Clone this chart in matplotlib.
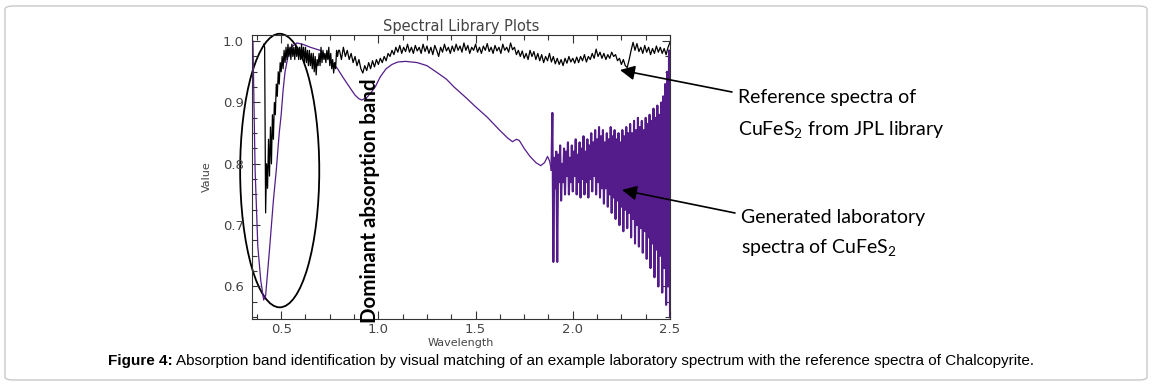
import numpy as np
import matplotlib
matplotlib.use('Agg')
from matplotlib import pyplot as plt
from matplotlib.patches import Ellipse, FancyBboxPatch
from matplotlib.ticker import MultipleLocator

# reference spectrum (JPL library), 0.410 - 0.795 um in 0.005 steps
ref_vis = [0.995, 0.99, 0.72, 0.80, 0.76, 0.84, 0.78, 0.86, 0.80, 0.88,
           0.84, 0.90, 0.88, 0.93, 0.91, 0.95, 0.93, 0.965, 0.95, 0.975,
           0.955, 0.985, 0.965, 0.99, 0.97, 0.995, 0.975, 0.99, 0.97, 0.995,
           0.975, 0.99, 0.97, 0.995, 0.975, 0.99, 0.97, 0.99, 0.97, 0.995,
           0.97, 0.99, 0.965, 0.99, 0.965, 0.985, 0.96, 0.985, 0.96, 0.98,
           0.955, 0.98, 0.95, 0.975, 0.945, 0.97, 0.96, 0.98, 0.96, 0.99,
           0.965, 0.985, 0.97, 0.98, 0.965, 0.985, 0.97, 0.99, 0.96, 0.98,
           0.955, 0.97, 0.948, 0.965, 0.955, 0.985, 0.975, 0.985]
# reference spectrum, 0.80 - 2.50 um in 0.01 steps
ref_ir = [0.985, 0.97, 0.99, 0.975, 0.985, 0.97, 0.98, 0.965, 0.975, 0.96,
          0.97, 0.955, 0.948, 0.96, 0.952, 0.965, 0.955, 0.968, 0.958, 0.97,
          0.962, 0.972, 0.965, 0.975, 0.968, 0.98, 0.975, 0.985, 0.978, 0.99,
          0.982, 0.993, 0.98, 0.99, 0.983, 0.995, 0.982, 0.99, 0.98, 0.993,
          0.984, 0.99, 0.98, 0.995, 0.983, 0.992, 0.98, 0.99, 0.978, 0.993,
          0.985, 0.975, 0.99, 0.982, 0.995, 0.984, 0.99, 0.98, 0.992, 0.983,
          0.995, 0.985, 0.992, 0.982, 0.997, 0.985, 0.993, 0.98, 0.99, 0.985,
          0.995, 0.982, 0.99, 0.98, 0.992, 0.985, 0.996, 0.983, 0.99, 0.98,
          0.993, 0.984, 0.99, 0.98, 0.995, 0.985, 0.99, 0.982, 0.997, 0.986,
          0.99, 0.978, 0.985, 0.975, 0.984, 0.972, 0.98, 0.97, 0.985, 0.975,
          0.983, 0.97, 0.98, 0.968, 0.978, 0.965, 0.975, 0.968, 0.98, 0.966,
          0.975, 0.963, 0.972, 0.962, 0.97, 0.96, 0.972, 0.964, 0.975, 0.966,
          0.972, 0.964, 0.974, 0.965, 0.975, 0.968, 0.978, 0.966, 0.975, 0.97,
          0.98, 0.972, 0.987, 0.975, 0.982, 0.972, 0.98, 0.97, 0.978, 0.972,
          0.982, 0.975, 0.978, 0.968, 0.972, 0.962, 0.97, 0.96, 0.957, 0.97,
          0.985, 0.998, 0.985, 0.996, 0.983, 0.99, 0.98, 0.993, 0.982, 0.99,
          0.978, 0.988, 0.98, 0.992, 0.982, 0.99, 0.98, 0.988, 0.978, 0.99,
          0.998]

# laboratory spectrum, smooth part
lab_wl = [0.355, 0.36, 0.366, 0.38, 0.395, 0.41, 0.42, 0.44, 0.46, 0.475,
          0.49, 0.50, 0.51, 0.52, 0.535, 0.55, 0.58, 0.61, 0.65, 0.70,
          0.75, 0.79, 0.82, 0.856, 0.88, 0.90, 0.915, 0.94, 0.96, 0.985,
          1.01, 1.04, 1.07, 1.10, 1.14, 1.20, 1.25, 1.31, 1.35, 1.39,
          1.45, 1.50, 1.56, 1.62, 1.665, 1.69, 1.71, 1.725, 1.75, 1.78,
          1.81, 1.835, 1.855, 1.87, 1.88, 1.89]
lab_val = [1.0, 0.90, 0.79, 0.665, 0.61, 0.578, 0.585, 0.66, 0.74, 0.79,
           0.85, 0.88, 0.92, 0.95, 0.975, 0.99, 0.997, 0.995, 0.99, 0.985,
           0.97, 0.955, 0.94, 0.923, 0.912, 0.906, 0.904, 0.908, 0.915, 0.926,
           0.942, 0.955, 0.962, 0.966, 0.967, 0.965, 0.96, 0.947, 0.938, 0.925,
           0.908, 0.893, 0.876, 0.856, 0.842, 0.836, 0.84, 0.838, 0.825, 0.812,
           0.802, 0.797, 0.802, 0.812, 0.805, 0.79]
# laboratory spectrum, noisy part: peaks at 1.895, 1.905 ... 2.495
lab_peaks = [0.883, 0.81, 0.82, 0.815, 0.83, 0.80, 0.825, 0.82, 0.835, 0.81,
             0.83, 0.82, 0.84, 0.815, 0.835, 0.825, 0.845, 0.82, 0.84, 0.83,
             0.85, 0.835, 0.855, 0.84, 0.86, 0.845, 0.855, 0.835, 0.85, 0.84,
             0.86, 0.845, 0.855, 0.84, 0.85, 0.835, 0.855, 0.845, 0.86, 0.85,
             0.865, 0.85, 0.87, 0.855, 0.875, 0.86, 0.87, 0.855, 0.875, 0.865,
             0.88, 0.87, 0.89, 0.875, 0.895, 0.88, 0.90, 0.91, 0.93, 0.95,
             0.985]
# troughs at 1.90, 1.91 ... 2.50
lab_troughs = [0.64, 0.76, 0.64, 0.77, 0.74, 0.77, 0.75, 0.78, 0.75, 0.77,
               0.755, 0.78, 0.75, 0.77, 0.745, 0.775, 0.75, 0.77, 0.745, 0.775,
               0.755, 0.78, 0.75, 0.77, 0.745, 0.76, 0.735, 0.76, 0.73, 0.75,
               0.72, 0.745, 0.71, 0.74, 0.70, 0.73, 0.69, 0.725, 0.695, 0.72,
               0.68, 0.71, 0.67, 0.70, 0.665, 0.695, 0.655, 0.69, 0.645, 0.68,
               0.63, 0.67, 0.615, 0.66, 0.60, 0.65, 0.59, 0.63, 0.57, 0.60,
               0.55]

W, H = 1152, 385
fig = plt.figure(figsize=(W / 100, H / 100), dpi=100)

# page frame
fig.patches.append(FancyBboxPatch((5 / W, 5 / H), 1142 / W, 374 / H,
                                  boxstyle='round,pad=0,rounding_size=0.008',
                                  transform=fig.transFigure, fc='none',
                                  ec='#c8c8c8', lw=1.0))

ax = fig.add_axes([252 / W, 1 - 319 / H, 418 / W, 284 / H])

ref_x = np.concatenate([np.linspace(0.41, 0.795, len(ref_vis)),
                        np.linspace(0.80, 2.50, len(ref_ir))])
ref_y = np.concatenate([ref_vis, ref_ir])

noisy_x = np.empty(2 * len(lab_peaks))
noisy_y = np.empty(2 * len(lab_peaks))
noisy_x[0::2] = np.linspace(1.895, 2.495, len(lab_peaks))
noisy_x[1::2] = np.linspace(1.90, 2.50, len(lab_troughs))
noisy_y[0::2] = lab_peaks
noisy_y[1::2] = lab_troughs

purple = '#541c8a'
ax.plot(lab_wl, lab_val, color=purple, lw=0.9)
ax.plot(np.concatenate([lab_wl[-1:], noisy_x]),
        np.concatenate([lab_val[-1:], noisy_y]), color=purple, lw=1.5)
ax.plot(ref_x, ref_y, color='black', lw=0.9)

ax.set_xlim(0.35, 2.5)
ax.set_ylim(0.547, 1.01)
ax.xaxis.set_major_locator(MultipleLocator(0.5))
ax.xaxis.set_minor_locator(MultipleLocator(0.125))
ax.yaxis.set_major_locator(MultipleLocator(0.1))
ax.yaxis.set_minor_locator(MultipleLocator(0.025))
ax.tick_params(which='both', direction='in', top=True, right=True,
               colors='#333333', labelcolor='#444444', labelsize=9.5)
ax.tick_params(which='major', length=6, width=0.8)
ax.tick_params(which='minor', length=3.5, width=0.8)
ax.tick_params(axis='x', pad=3)
ax.tick_params(axis='y', pad=6)
for s in ax.spines.values():
    s.set_color('#333333')
    s.set_linewidth(0.8)

ax.set_title('Spectral Library Plots', fontsize=10.5, color='#444444', pad=3)
ax.set_xlabel('Wavelength', fontsize=8, color='#444444', labelpad=1)
ax.set_ylabel('Value', fontsize=8, color='#444444', labelpad=8)

# circled region
ax.add_patch(Ellipse((0.4925, 0.789), 0.407, 0.446, fill=False, ec='black',
                     lw=1.3, clip_on=False))

ann_font = ['Lato', 'DejaVu Sans']
fig.text(370 / W, 1 - 323 / H, 'Dominant absorption band', rotation=90,
         ha='center', va='bottom', fontsize=14.8, fontweight='bold',
         family=ann_font)

fig.text(738 / W, 1 - 97 / H, 'Reference spectra of', ha='left', va='center',
         fontsize=14, family=ann_font)
fig.text(738 / W, 1 - 130 / H, 'CuFeS$_\\mathregular{2}$ from JPL library',
         ha='left', va='center', fontsize=14, family=ann_font)
fig.text(741 / W, 1 - 217 / H, 'Generated laboratory', ha='left', va='center',
         fontsize=14, family=ann_font)
fig.text(741 / W, 1 - 248 / H, 'spectra of CuFeS$_\\mathregular{2}$',
         ha='left', va='center', fontsize=14, family=ann_font)

arrow = dict(arrowstyle='-|>', color='black', lw=1.2, mutation_scale=22,
             shrinkA=0, shrinkB=0)
ax.annotate('', xy=(620, H - 70), xycoords='figure pixels',
            xytext=(732, H - 92), textcoords='figure pixels', arrowprops=arrow)
ax.annotate('', xy=(622, H - 190), xycoords='figure pixels',
            xytext=(735, H - 213), textcoords='figure pixels', arrowprops=arrow)

# caption
cap_font = ['Liberation Sans']
renderer = fig.canvas.get_renderer()
t1 = fig.text(108 / W, 1 - 361 / H, 'Figure 4:', fontsize=11,
              fontweight='bold', family=cap_font, va='center')
bb = t1.get_window_extent(renderer)
fig.text((bb.x1 + 3) / W, 1 - 361 / H,
         'Absorption band identification by visual matching of an example '
         'laboratory spectrum with the reference spectra of Chalcopyrite.',
         fontsize=11, family=cap_font, va='center')

fig.savefig('out.png', dpi=100)
